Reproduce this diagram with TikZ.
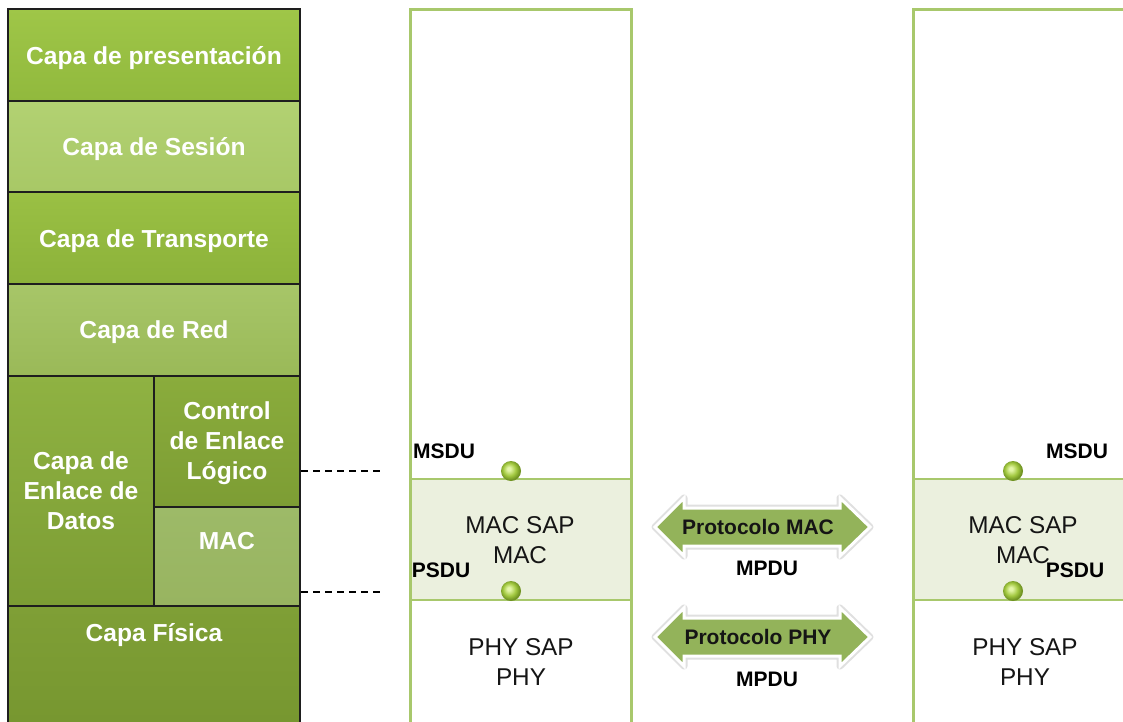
\documentclass[tikz,border=0pt]{standalone}
\usepackage{fontspec}
\setmainfont{Liberation Sans}
\usetikzlibrary{calc}
\definecolor{borderdark}{HTML}{1E1E1E}
\definecolor{colgreen}{HTML}{A8C86C}
\definecolor{bandfill}{HTML}{EBF0DE}
\definecolor{arrowgreen}{HTML}{93B35A}
\definecolor{dotlight}{HTML}{E4F6A8}
\definecolor{dotmid}{HTML}{A2C840}
\definecolor{dotdark}{HTML}{6F9222}
\definecolor{txtdark}{HTML}{151515}
\definecolor{presT}{HTML}{9FC648}\definecolor{presB}{HTML}{91B93D}
\definecolor{sesT}{HTML}{B2D172}\definecolor{sesB}{HTML}{A8C866}
\definecolor{traT}{HTML}{9AC044}\definecolor{traB}{HTML}{8CB23A}
\definecolor{redT}{HTML}{A7C668}\definecolor{redB}{HTML}{9AB958}
\definecolor{enlT}{HTML}{8FB242}\definecolor{enlB}{HTML}{7C9D34}
\definecolor{ctlT}{HTML}{8AAC3C}\definecolor{ctlB}{HTML}{7D9D34}
\definecolor{macT}{HTML}{9DBA68}\definecolor{macB}{HTML}{98B460}
\definecolor{fisT}{HTML}{7F9F36}\definecolor{fisB}{HTML}{76962F}
\pgfdeclareradialshading{sapball}{\pgfpoint{-6bp}{6bp}}{%
  color(0bp)=(dotlight); color(4bp)=(dotlight); color(16bp)=(dotmid);
  color(25bp)=(dotdark); color(50bp)=(dotdark)}
\begin{document}
\begin{tikzpicture}[x=1pt,y=-1pt,
  layerbox/.style={draw=borderdark, line width=1.6pt, rectangle, inner sep=0pt, outer sep=0pt,
     text=white, font=\bfseries\fontsize{24.6}{30}\selectfont, align=center},
  boldlbl/.style={font=\bfseries\fontsize{21}{24}\selectfont, text=black, inner sep=0pt},
  saplbl/.style={font=\fontsize{24.3}{30}\selectfont, text=txtdark, align=center, inner sep=0pt},
  wlbl/.style={font=\bfseries\fontsize{24.6}{30}\selectfont, text=white, align=center, inner sep=0pt},
  colline/.style={draw=colgreen, line width=3pt},
  bandline/.style={draw=colgreen, line width=2pt},
  dashline/.style={draw=black, line width=1.6pt, dash pattern=on 7pt off 5pt},
  sapdot/.style={circle, minimum size=20pt, inner sep=0pt, shading=sapball},
  protarrow/.style={fill=arrowgreen, draw=white, line width=3pt, line join=miter},
  arrglow/.style={draw=black!12, line width=7pt, line join=round},
  arrlbl/.style={font=\bfseries\fontsize{21}{24}\selectfont, text=txtdark, inner sep=0pt}
]
\useasboundingbox (0,0) rectangle (1123,721);
\fill[white] (0,0) rectangle (1123,721);

% ---------- left OSI stack ----------
\node[layerbox, minimum width=292pt, minimum height=92pt, top color=presT, bottom color=presB] (pres) at (154,55) {};
\node[wlbl, yshift=-3pt] (prestxt) at (pres) {Capa de presentación};
\node[layerbox, minimum width=292pt, minimum height=91pt, top color=sesT, bottom color=sesB] (ses) at (154,146.5) {};
\node[wlbl, yshift=-3pt] (sestxt) at (ses) {Capa de Sesión};
\node[layerbox, minimum width=292pt, minimum height=92pt, top color=traT, bottom color=traB] (tra) at (154,238) {};
\node[wlbl, yshift=-3pt] (tratxt) at (tra) {Capa de Transporte};
\node[layerbox, minimum width=292pt, minimum height=92pt, top color=redT, bottom color=redB] (red) at (154,330) {};
\node[wlbl, yshift=-2pt] (redtxt) at (red) {Capa de Red};
\node[layerbox, minimum width=146pt, minimum height=230pt, top color=enlT, bottom color=enlB] (enl) at (81,491) {Capa de\\Enlace de\\Datos};
\node[layerbox, minimum width=146pt, minimum height=131pt, top color=ctlT, bottom color=ctlB] (ctl) at (227,441.5) {};
\node[wlbl] (ctltxt) at (227,443) {Control\\de Enlace\\Lógico};
\node[layerbox, minimum width=146pt, minimum height=99pt, top color=macT, bottom color=macB] (mac) at (227,556.5) {};
\node[wlbl] (mactxt) at (227,541) {MAC};
\node[layerbox, minimum width=292pt, minimum height=130pt, top color=fisT, bottom color=fisB] (fis) at (154,671) {};
\node[wlbl] (fistxt) at (154,635) {Capa Física};

% ---------- dashed connectors ----------
\coordinate (dA0) at (301,471);
\coordinate (dA1) at (380,471);
\coordinate (dB0) at (301,592);
\coordinate (dB1) at (380,592);
\draw[dashline] (dA0) -- (dA1);
\draw[dashline] (dB0) -- (dB1);

% ---------- middle station ----------
\fill[bandfill] (410,479) rectangle (631,600);
\draw[bandline] (410,479) -- (631,479);
\draw[bandline] (410,600) -- (631,600);
\draw[colline] (410,735) -- (410,9) -- (631,9) -- (631,735);

% ---------- right station ----------
\fill[bandfill] (913,479) rectangle (1135,600);
\draw[bandline] (913,479) -- (1135,479);
\draw[bandline] (913,600) -- (1135,600);
\draw[colline] (913,735) -- (913,9) -- (1135,9);

% ---------- SAP labels ----------
\node[saplbl] (msap1) at (520,540) {MAC SAP\\MAC};
\node[saplbl] (psap1) at (521,662) {PHY SAP\\PHY};
\node[saplbl] (msap2) at (1023,540) {MAC SAP\\MAC};
\node[saplbl] (psap2) at (1025,662) {PHY SAP\\PHY};

\node[boldlbl] (msdu1) at (444,451) {MSDU};
\node[boldlbl] (psdu1) at (441,570) {PSDU};
\node[boldlbl] (msdu2) at (1077,451) {MSDU};
\node[boldlbl] (psdu2) at (1075,570) {PSDU};

% ---------- SAP dots ----------
\node[sapdot] (dot1) at (511,471) {};
\node[sapdot] (dot2) at (511,591) {};
\node[sapdot] (dot3) at (1013,471) {};
\node[sapdot] (dot4) at (1013,591) {};

% ---------- protocol arrows ----------
\foreach \cy in {527, 637}{
  \draw[arrglow] (655,\cy) -- (684,\cy-29) -- (684,\cy-19) -- (840,\cy-19) -- (840,\cy-29)
     -- (870,\cy) -- (840,\cy+29) -- (840,\cy+19) -- (684,\cy+19) -- (684,\cy+29) -- cycle;
  \path[protarrow] (655,\cy) -- (684,\cy-29) -- (684,\cy-19) -- (840,\cy-19) -- (840,\cy-29)
     -- (870,\cy) -- (840,\cy+29) -- (840,\cy+19) -- (684,\cy+19) -- (684,\cy+29) -- cycle;
}
\node[arrlbl] (pmac) at (758,527) {Protocolo MAC};
\node[arrlbl] (pphy) at (758,637) {Protocolo PHY};
\node[boldlbl] (mpdu1) at (767,568) {MPDU};
\node[boldlbl] (mpdu2) at (767,679) {MPDU};
\end{tikzpicture}
\end{document}
